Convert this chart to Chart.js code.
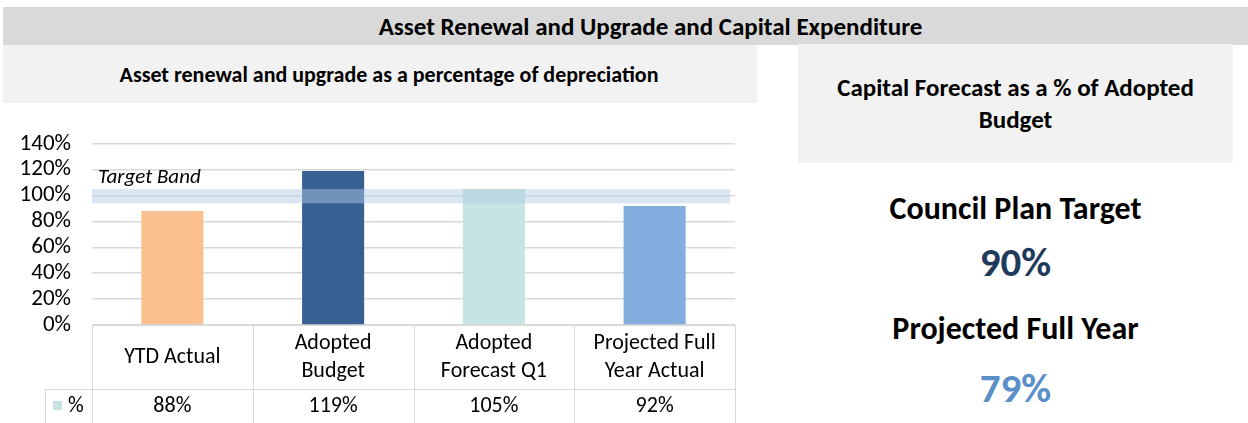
<!DOCTYPE html>
<html>
<head>
<meta charset="utf-8">
<script src="https://cdn.jsdelivr.net/npm/chart.js@4.4.1/dist/chart.umd.min.js"></script>
<style>
  body { margin: 0; width: 1248px; height: 423px; position: relative; overflow: hidden; background: #fff;
         font-family: Carlito, "Liberation Sans Narrow", Roboto, sans-serif; color: #000; }
  .box { position: absolute; display: flex; align-items: center; justify-content: center; text-align: center; font-weight: bold; box-sizing: border-box; }
  #header { left: 3px; top: 7px; width: 1245px; height: 38px; background: #d9d9d9; font-size: 25px; padding-left: 50px; }
  #subtitle { left: 3px; top: 45px; width: 754px; height: 58px; background: #f2f2f2; font-size: 22px; padding-left: 18px; }
  #capTitle { left: 798px; top: 44px; width: 435px; height: 119px; background: #f2f2f2; font-size: 25px; line-height: 32px; }
  .kpi { position: absolute; left: 798px; width: 435px; height: 50px; line-height: 50px; text-align: center; font-weight: bold; }
  .kpiLabel { font-size: 32px; }
  .kpiValue { font-size: 41px; }
  #chartWrap { position: absolute; left: 0; top: 109px; width: 760px; height: 314px; }
</style>
</head>
<body>
<div id="header" class="box">Asset Renewal and Upgrade and Capital Expenditure</div>
<div id="subtitle" class="box">Asset renewal and upgrade as a percentage of depreciation</div>
<div id="capTitle" class="box">Capital Forecast as a % of Adopted<br>Budget</div>
<div class="kpi kpiLabel" style="top:184px">Council Plan Target</div>
<div class="kpi kpiValue" style="top:237px;color:#1f3b5c">90%</div>
<div class="kpi kpiLabel" style="top:304px">Projected Full Year</div>
<div class="kpi kpiValue" style="top:363px;color:#5a8fc8">79%</div>
<div id="chartWrap"><canvas id="chart"></canvas></div>

<script>
const categories = [["YTD Actual"], ["Adopted", "Budget"], ["Adopted", "Forecast Q1"], ["Projected Full", "Year Actual"]];
const percentValues = [88, 119, 105, 92];
const barColors = ["#fac090", "#376092", "#c5e4e3", "#84aee0"];
const targetBand = [94, 105];
const yTicks = { min: 0, max: 140, step: 20 };
const seriesName = "%";

const FONT = 'Carlito, "Liberation Sans Narrow", Roboto, sans-serif';
const LINE = "#d9d9d9";

const bandPlugin = {
  id: "targetBand",
  afterDatasetsDraw(chart) {
    const { ctx, chartArea, scales } = chart;
    const yTop = scales.y.getPixelForValue(targetBand[1]);
    const yBot = scales.y.getPixelForValue(targetBand[0]);
    ctx.save();
    ctx.fillStyle = "rgba(178, 202, 228, 0.48)";
    ctx.fillRect(chartArea.left, yTop, chartArea.right - chartArea.left - 5, yBot - yTop);
    ctx.fillStyle = "#000";
    ctx.font = "italic 21px " + FONT;
    ctx.textBaseline = "middle";
    ctx.fillText("Target Band", chartArea.left + 6, scales.y.getPixelForValue(114));
    ctx.restore();
  }
};

const tablePlugin = {
  id: "dataTable",
  afterDraw(chart) {
    const { ctx, chartArea, scales } = chart;
    const x = scales.x;
    const n = categories.length;
    const half = (x.getPixelForValue(1) - x.getPixelForValue(0)) / 2;
    const top = chartArea.bottom;
    const mid = top + 64;
    const bottom = chart.height;
    const legendLeft = 45;
    const edges = [];
    for (let i = 0; i <= n; i++) edges.push(Math.round(x.getPixelForValue(i) - half) + 0.5);

    ctx.save();
    ctx.strokeStyle = LINE;
    ctx.lineWidth = 1;
    ctx.beginPath();
    ctx.moveTo(edges[0], top + 0.5); ctx.lineTo(edges[n], top + 0.5);
    ctx.moveTo(legendLeft + 0.5, mid + 0.5); ctx.lineTo(edges[n], mid + 0.5);
    ctx.moveTo(legendLeft + 0.5, mid); ctx.lineTo(legendLeft + 0.5, bottom);
    edges.forEach(e => { ctx.moveTo(e, top); ctx.lineTo(e, bottom); });
    ctx.stroke();

    ctx.fillStyle = "#000";
    ctx.textAlign = "center";
    ctx.textBaseline = "middle";
    ctx.font = "22px " + FONT;
    categories.forEach((lines, i) => {
      const cx = x.getPixelForValue(i);
      const cy = (top + mid) / 2;
      const lh = 28;
      lines.forEach((t, k) => ctx.fillText(t, cx, cy + (k - (lines.length - 1) / 2) * lh));
      ctx.fillText(percentValues[i] + "%", cx, mid + 17);
    });

    ctx.fillStyle = barColors[2];
    ctx.fillRect(53, mid + 12, 9, 9);
    ctx.fillStyle = "#000";
    ctx.textAlign = "left";
    ctx.fillText(seriesName, 68, mid + 17);
    ctx.restore();
  }
};

new Chart(document.getElementById("chart"), {
  type: "bar",
  data: {
    labels: categories,
    datasets: [{
      label: seriesName,
      data: percentValues,
      backgroundColor: barColors,
      borderWidth: 0,
      barPercentage: 0.386,
      categoryPercentage: 1
    }]
  },
  options: {
    responsive: true,
    maintainAspectRatio: false,
    animation: false,
    layout: { padding: { top: 6, right: 25, left: 0, bottom: 0 } },
    plugins: { legend: { display: false }, tooltip: { enabled: false } },
    scales: {
      x: {
        grid: { display: false },
        border: { display: false },
        ticks: { display: false },
        afterFit(s) { s.height = 98; }
      },
      y: {
        min: yTicks.min,
        max: yTicks.max,
        ticks: {
          stepSize: yTicks.step,
          autoSkip: false,
          color: "#000",
          font: { size: 23, family: FONT },
          padding: 21,
          callback: v => v + "%"
        },
        grid: { color: LINE, lineWidth: 1.5, drawTicks: false },
        border: { display: false },
        afterFit(s) { s.width = 92; }
      }
    }
  },
  plugins: [bandPlugin, tablePlugin]
});
</script>
</body>
</html>
